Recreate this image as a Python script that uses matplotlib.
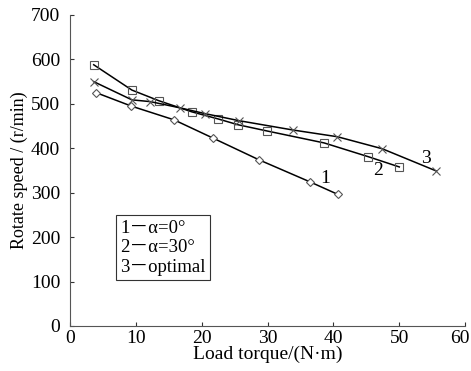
import matplotlib
matplotlib.use("Agg")
import matplotlib.pyplot as plt
import matplotlib.transforms as mtransforms

plt.rcParams['font.family'] = ['Liberation Serif', 'Noto Sans CJK SC', 'DejaVu Serif']

x1 = [4.0, 9.3, 15.8, 21.7, 28.7, 36.5, 40.7]
y1 = [525, 495, 464, 423, 374, 324, 296]
x2 = [3.6, 9.4, 13.5, 18.5, 22.5, 25.5, 29.9, 38.6, 45.3, 50.0]
y2 = [588, 531, 507, 482, 466, 453, 439, 412, 381, 358]
x3 = [3.6, 9.4, 12.2, 16.7, 20.5, 25.7, 33.9, 40.6, 47.4, 55.6]
y3 = [550, 509, 505, 491, 478, 462, 441, 426, 399, 349]

curve_labels = ['1', '2', '3']
label_pos = [(38.8, 333), (46.8, 351), (54.1, 378)]
legend_lines = ['1\uff0d\u03b1=0\u00b0', '2\uff0d\u03b1=30\u00b0', '3\uff0doptimal']
xticks = [0, 10, 20, 30, 40, 50, 60]
yticks = [0, 100, 200, 300, 400, 500, 600, 700]

fig = plt.figure(figsize=(4.71, 3.71), dpi=100)
ax = fig.add_axes([0.1486, 0.1213, 0.839, 0.8383])

mc = '#555555'
ax.plot(x1, y1, color='black', lw=1.1, marker='D', markersize=4.2, mfc='white', mec=mc, mew=0.8)
ax.plot(x2, y2, color='black', lw=1.1, marker='s', markersize=5.8, mfc='none', mec=mc, mew=0.8)
ax.plot(x3, y3, color='black', lw=1.1, marker='x', markersize=5.5, mec=mc, mew=0.8)

for lab, (px, py) in zip(curve_labels, label_pos):
    ax.text(px, py, lab, fontsize=14, ha='center', va='center')

ax.text(0.127, 0.252, '\n'.join(legend_lines), transform=ax.transAxes, fontsize=13.5,
        ha='left', va='center', linespacing=1.2,
        bbox=dict(boxstyle='square,pad=0.22', fc='white', ec='#333333', lw=0.8))

ax.set_xlim(0, 60)
ax.set_ylim(0, 700)
ax.set_xticks(xticks)
ax.set_yticks(yticks)
ax.tick_params(direction='in', length=3, labelsize=14, colors='#333333', labelcolor='black')
ax.tick_params(axis='y', pad=7)
ax.tick_params(axis='x', pad=3)
for s in ['top', 'right']:
    ax.spines[s].set_visible(False)
for s in ['left', 'bottom']:
    ax.spines[s].set_color('#555555')
ax.set_xlabel('Load torque/(N\u00b7m)', fontsize=14, labelpad=-1)
ax.set_ylabel('Rotate speed / (r/min)', fontsize=13, labelpad=2)

fig.canvas.draw()
last = ax.get_xticklabels()[-1]
last.set_transform(last.get_transform() + mtransforms.ScaledTranslation(-5/100, 0, fig.dpi_scale_trans))

fig.savefig('out.png', dpi=100)
